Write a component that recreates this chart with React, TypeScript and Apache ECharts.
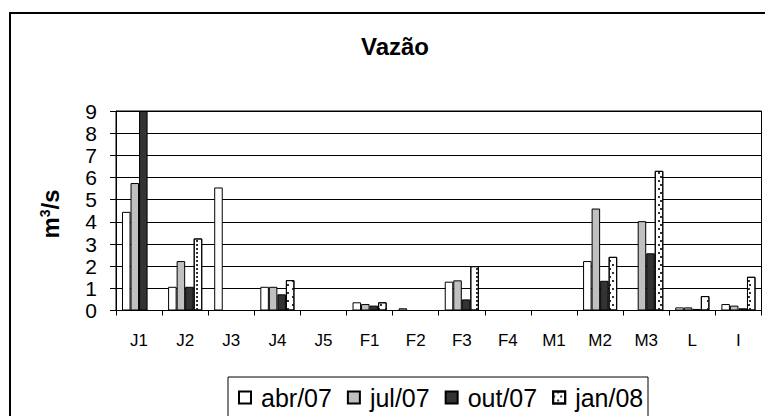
import React, { useEffect, useRef } from "react";
import * as echarts from "echarts";

const categories = ["J1", "J2", "J3", "J4", "J5", "F1", "F2", "F3", "F4", "M1", "M2", "M3", "L", "I"];
const seriesNames = ["abr/07", "jul/07", "out/07", "jan/08"];
const abr07 = [4.45, 1.07, 5.55, 1.07, null, 0.37, 0.1, 1.3, null, null, 2.23, null, 0.14, 0.29];
const jul07 = [5.75, 2.23, null, 1.07, null, 0.29, null, 1.36, null, null, 4.6, 4.03, 0.14, 0.22];
const out07 = [9.0, 1.07, null, 0.73, null, 0.22, null, 0.5, null, null, 1.34, 2.58, 0.07, 0.1];
const jan08 = [null, 3.25, null, 1.37, null, 0.37, null, 2.0, null, null, 2.42, 6.3, 0.65, 1.52];
const yTicks = [0, 1, 2, 3, 4, 5, 6, 7, 8, 9];

const FONT = "'Liberation Sans', Arial, sans-serif";

export default function App() {
  const ref = useRef<HTMLDivElement>(null);
  useEffect(() => {
    const chart = echarts.init(ref.current!, null, { renderer: "svg" });
    const border = { borderColor: "#000", borderWidth: 1 };
    const fills = ["#ffffff", "#c0c0c0", "#333333", "#ffffff"];
    const values = [abr07, jul07, out07, jan08];
    chart.setOption({
      animation: false,
      backgroundColor: "#fff",
      textStyle: { fontFamily: FONT },
      grid: {
        left: 116,
        top: 111,
        width: 645.5,
        height: 199.5,
        show: true,
        borderColor: "#000",
        borderWidth: 1,
        backgroundColor: "transparent",
      },
      legend: {
        left: 238,
        top: 385,
        padding: 0,
        itemWidth: 12,
        itemHeight: 12,
        itemGap: 15,
        icon: "rect",
        textStyle: { fontSize: 25, color: "#000", fontFamily: FONT, padding: [0, 0, 0, 5] },
        data: seriesNames,
      },
      xAxis: {
        type: "category",
        data: categories,
        axisLine: { lineStyle: { color: "#000", width: 1 } },
        axisTick: { show: true, length: 5, lineStyle: { color: "#000" } },
        axisLabel: { fontSize: 17, color: "#000", margin: 21, fontFamily: FONT, interval: 0 },
      },
      yAxis: {
        type: "value",
        min: yTicks[0],
        max: yTicks[yTicks.length - 1],
        interval: 1,
        axisLine: { show: true, lineStyle: { color: "#000", width: 1 } },
        axisTick: { show: true, length: 6, lineStyle: { color: "#000" } },
        axisLabel: { fontSize: 21, color: "#000", margin: 19, fontFamily: FONT },
        splitLine: { show: true, lineStyle: { color: "#000", width: 1 } },
      },
      series: seriesNames.map((name, i) => ({
        name,
        type: "bar",
        data: values[i],
        barGap: "0%",
        barCategoryGap: "26%",
        itemStyle: {
          color: fills[i],
          ...border,
          ...(i === 3
            ? {
                decal: {
                  symbol: "rect",
                  symbolSize: 1,
                  color: "#333",
                  dashArrayX: [
                    [2, 5],
                    [0, 3.5, 2, 1.5],
                  ],
                  dashArrayY: [2, 2],
                },
              }
            : {}),
        },
      })),
      graphic: [
        {
          type: "rect",
          shape: { x: 10, y: 13, width: 800, height: 500 },
          style: { fill: "none", stroke: "#000", lineWidth: 2 },
          silent: true,
        },
        {
          type: "rect",
          shape: { x: 228, y: 377, width: 420, height: 60 },
          style: { fill: "none", stroke: "#000", lineWidth: 1 },
          silent: true,
        },
        {
          type: "text",
          x: 395,
          y: 46,
          style: {
            text: "Vazão",
            font: `bold 24px ${FONT}`,
            fill: "#000",
            align: "center",
            verticalAlign: "middle",
          },
        },
        {
          type: "text",
          x: 50,
          y: 214,
          rotation: Math.PI / 2,
          style: {
            text: "{a|m}{b|3}{a|/s}",
            align: "center",
            verticalAlign: "middle",
            fill: "#000",
            rich: {
              a: { fontSize: 24, fontWeight: "bold", fontFamily: FONT, fill: "#000", verticalAlign: "bottom" },
              b: { fontSize: 14, fontWeight: "bold", fontFamily: FONT, fill: "#000", verticalAlign: "top", padding: [0, 0, 11, 0] },
            },
          },
        },
      ],
    });
    return () => chart.dispose();
  }, []);
  return <div ref={ref} style={{ position: "absolute", left: 0, top: 0, width: 765, height: 416 }} />;
}
